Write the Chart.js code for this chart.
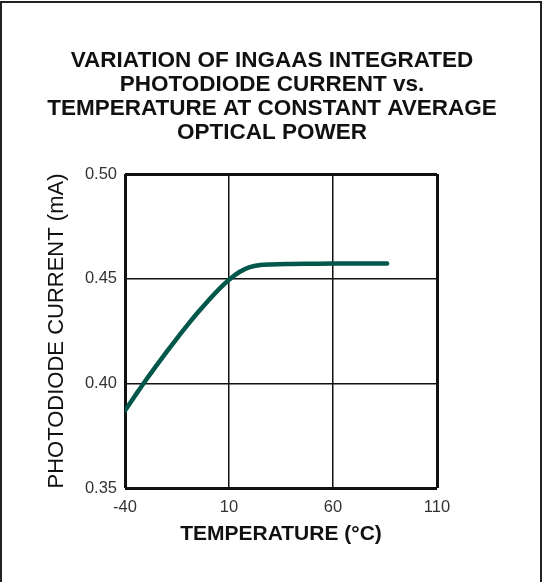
<!DOCTYPE html>
<html>
<head>
<meta charset="utf-8">
<script src="https://cdn.jsdelivr.net/npm/chart.js@4"></script>
<style>
  html, body { margin: 0; padding: 0; background: #fff; }
  #wrap { width: 543px; height: 582px; }
</style>
</head>
<body>
<div id="wrap"><canvas id="myChart" width="543" height="582"></canvas></div>
<script>
const titleLines = [
  "VARIATION OF INGAAS INTEGRATED",
  "PHOTODIODE CURRENT vs.",
  "TEMPERATURE AT CONSTANT AVERAGE",
  "OPTICAL POWER"
];
const xTicks = [-40, 10, 60, 110];
const yTicks = [0.35, 0.40, 0.45, 0.50];
const temps = [-40, -35, -30, -25, -20, -15, -10, -5, 0, 5, 10, 15, 20, 25, 30, 40, 50, 60, 70, 80, 86];
const current = [0.387, 0.3943, 0.4015, 0.4083, 0.415, 0.4215, 0.4278, 0.4338, 0.4395, 0.4448, 0.4495,
                 0.4532, 0.4555, 0.4565, 0.4568, 0.457, 0.4571, 0.4572, 0.4572, 0.4572, 0.4572];

const FONT = "'Liberation Sans', Arial, Helvetica, sans-serif";

// frame round the figure and the title block
const framePlugin = {
  id: "frame",
  beforeDraw(chart) {
    const c = chart.ctx;
    c.save();
    c.strokeStyle = "#222";
    c.lineWidth = 2;
    c.beginPath();
    c.moveTo(1, 582);
    c.lineTo(1, 2);
    c.lineTo(541, 2);
    c.lineTo(541, 582);
    c.stroke();
    c.restore();
  },
  afterDraw(chart) {
    const c = chart.ctx;
    c.save();
    c.fillStyle = "#111";
    c.font = "bold 22.5px " + FONT;
    c.textAlign = "center";
    c.textBaseline = "alphabetic";
    titleLines.forEach((t, i) => c.fillText(t, 272, 67 + i * 24));
    c.restore();
  }
};

function edgeWidth(ctx, n) {
  return (ctx.index === 0 || ctx.index === n - 1) ? 3 : 1.5;
}

const ctx = document.getElementById("myChart");
let myChart = new Chart(ctx, {
  type: "line",
  data: {
    datasets: [{
      data: temps.map((t, i) => ({ x: t, y: current[i] })),
      borderColor: "#00574a",
      borderWidth: 4.5,
      borderCapStyle: "round",
      pointRadius: 0,
      cubicInterpolationMode: "monotone",
      fill: false
    }]
  },
  options: {
    responsive: false,
    animation: false,
    layout: { padding: { top: 174, right: 106, left: 0, bottom: 0 } },
    plugins: { legend: { display: false }, tooltip: { enabled: false } },
    scales: {
      x: {
        type: "linear",
        min: -40,
        max: 110,
        afterBuildTicks: (s) => { s.ticks = xTicks.map(v => ({ value: v })); },
        afterFit: (s) => { s.height = 94; },
        border: { display: false },
        grid: {
          color: "#111",
          lineWidth: (c) => edgeWidth(c, xTicks.length),
          drawTicks: false
        },
        ticks: {
          padding: 10,
          color: "#333",
          font: { family: FONT, size: 16.5 },
          maxRotation: 0
        },
        title: {
          display: true,
          text: "TEMPERATURE (°C)",
          color: "#111",
          font: { family: FONT, size: 21, weight: "bold" },
          padding: { top: 0, bottom: 35 }
        }
      },
      y: {
        min: 0.35,
        max: 0.50,
        afterBuildTicks: (s) => { s.ticks = yTicks.map(v => ({ value: v })); },
        afterFit: (s) => { s.width = 125; },
        border: { display: false },
        grid: {
          color: "#111",
          lineWidth: (c) => edgeWidth(c, yTicks.length),
          drawTicks: false
        },
        ticks: {
          padding: 8,
          color: "#333",
          font: { family: FONT, size: 16.5 },
          callback: (v) => Number(v).toFixed(2)
        },
        title: {
          display: true,
          text: "PHOTODIODE CURRENT (mA)",
          color: "#111",
          font: { family: FONT, size: 22 },
          padding: { top: 44, bottom: 0 }
        }
      }
    }
  },
  plugins: [framePlugin]
});
</script>
</body>
</html>
